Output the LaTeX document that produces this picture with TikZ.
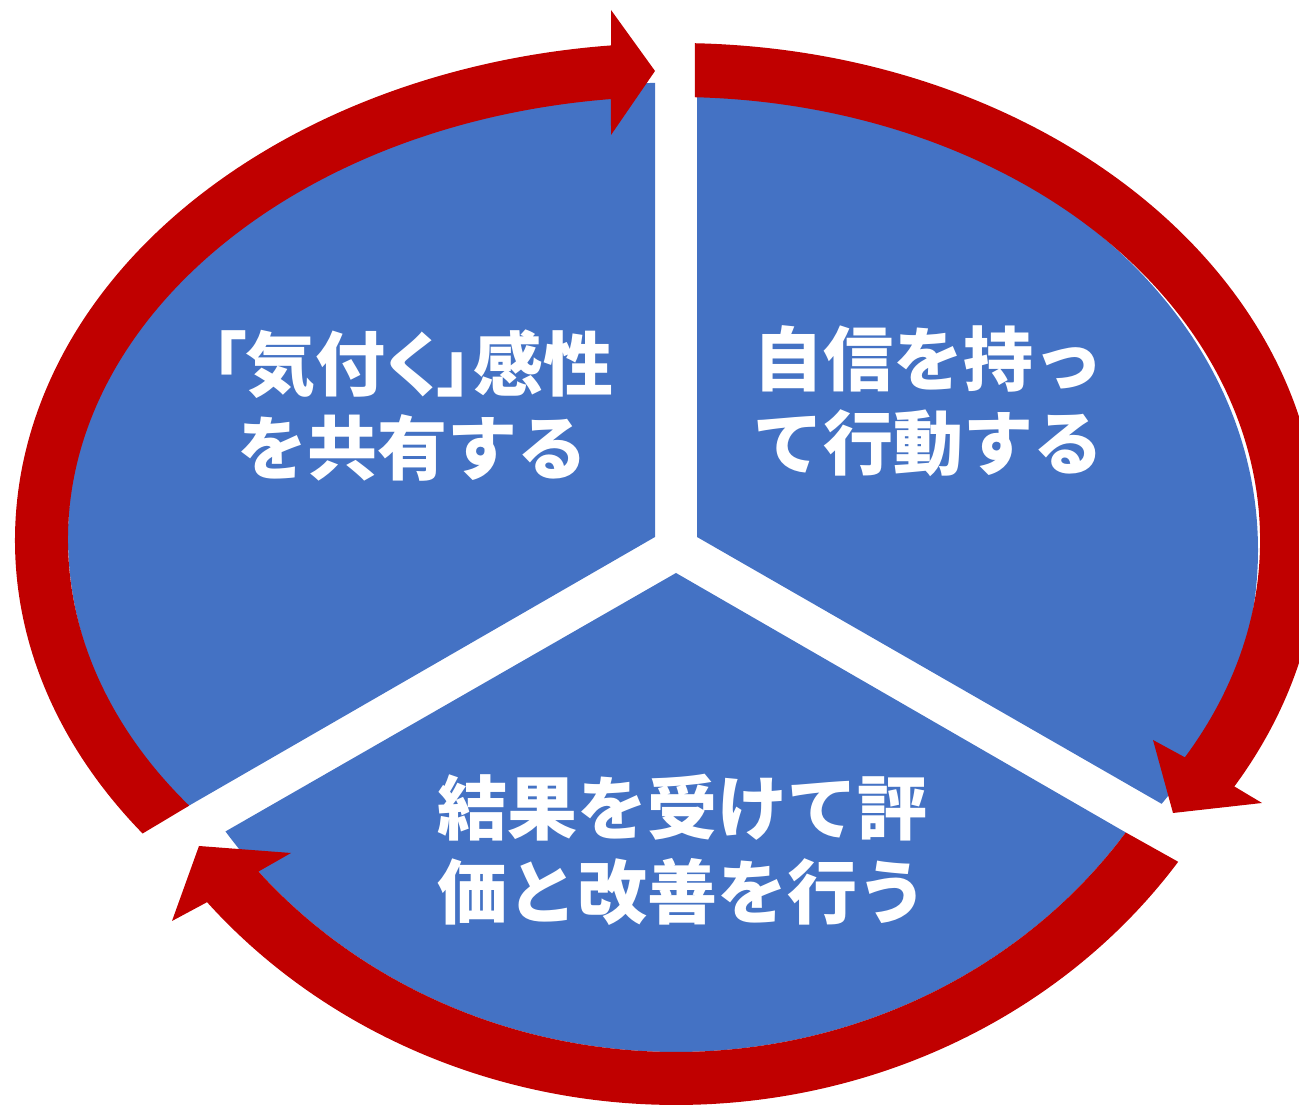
\documentclass[tikz,border=0pt]{standalone}
\usepackage{fontspec}
\usetikzlibrary{calc}
\newfontfamily\jp{Noto Sans CJK JP}
\newfontfamily\jpp{Noto Sans CJK JP}[RawFeature=+palt]
\definecolor{bluec}{HTML}{4472C4}
\definecolor{redc}{HTML}{C00000}
\tikzset{
  piece/.style={fill=bluec},
  cyclearrow/.style={fill=redc},
  label/.style={text=white, align=center, font=\jp\bfseries\fontsize{70pt}{84pt}\selectfont, inner sep=0pt}
}
\begin{document}
\begin{tikzpicture}[x=1pt,y=1pt]
\useasboundingbox (0,0) rectangle (1299,1107);
\clip (0,0) rectangle (1299,1107);
\coordinate (C) at (676,567);
% blue pieces
\fill[piece] (655,570) -- (655,1024) arc[start angle=90, end angle=216.7, x radius=587pt, y radius=454pt] -- cycle;
\fill[piece] (697,570) -- (697,1010) arc[start angle=90, end angle=-34.08, x radius=561pt, y radius=453pt] -- cycle;
\fill[piece] (676,534) -- ($(C)+(-34.84:548pt and 512pt)$) arc[start angle=-34.84, end angle=-145.3, x radius=548pt, y radius=512pt] -- cycle;
% red arrows
\fill[cyclearrow] ($(C)+(216.2:661pt and 497pt)$) arc[start angle=216.2, end angle=95.64, x radius=661pt, y radius=497pt]
  -- (611,1097) -- (655,1036) -- (611,972)
  -- ($(C)+(96.14:608pt and 443.5pt)$) arc[start angle=96.14, end angle=216.8, x radius=608pt, y radius=443.5pt] -- cycle;
\fill[cyclearrow] ($(C)+(88.31:643pt and 497pt)$) arc[start angle=88.31, end angle=-29.73, x radius=643pt, y radius=497pt]
  -- (1262,304) -- (1173,294) -- (1153,367)
  -- ($(C)+(-29.38:584pt and 443pt)$) arc[start angle=-29.38, end angle=88.14, x radius=584pt, y radius=443pt] -- cycle;
\fill[cyclearrow] ($(C)+(-34.72:611pt and 565pt)$) arc[start angle=-34.72, end angle=-140.13, x radius=611pt, y radius=565pt]
  -- (172,186) -- (199,261) -- (291,254)
  -- ($(C)+(-139.64:548pt and 512pt)$) arc[start angle=-139.64, end angle=-34.84, x radius=548pt, y radius=512pt] -- cycle;
% labels
\node[label] (t1) at (412,701) {{\jpp\bfseries 「気付く」感性}\\を共有する};
\node[label] (t2) at (928,706) {自信を持っ\\て行動する};
\node[label] (t3) at (682,257) {結果を受けて評\\価と改善を行う};
\end{tikzpicture}
\end{document}
